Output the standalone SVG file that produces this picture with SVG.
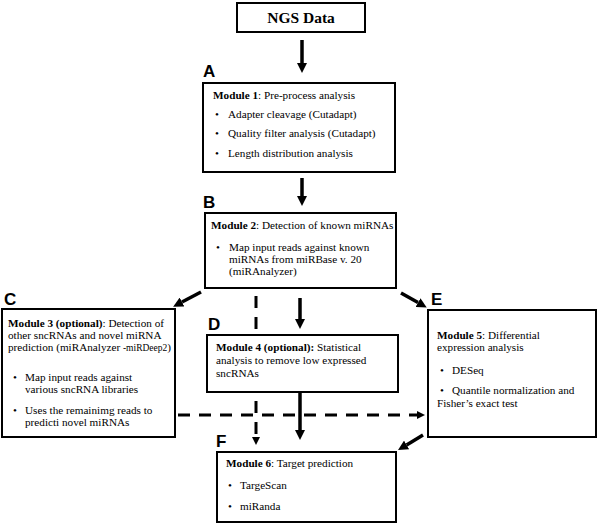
<svg xmlns="http://www.w3.org/2000/svg" width="600" height="524" viewBox="0 0 600 524">
<defs>
<style>
.box{fill:#fff;stroke:#000;stroke-width:2}
.t{font-family:"Liberation Serif","Times New Roman",serif;font-size:11.2px;fill:#000}
.b{font-weight:bold}
.lab{font-family:"Liberation Sans",Arial,sans-serif;font-size:17px;font-weight:bold;fill:#000}
.arr{stroke:#000;stroke-width:3.5;fill:none}
.dash{stroke:#000;stroke-width:3;fill:none;stroke-dasharray:12 9}
</style>
<marker id="ah" viewBox="0 0 10 10" refX="0" refY="5" markerWidth="10" markerHeight="10" markerUnits="userSpaceOnUse" orient="auto"><path d="M0,0 L10,5 L0,10 z" fill="#000"/></marker>
<marker id="ahs" viewBox="0 0 10 10" refX="0" refY="5" markerWidth="8" markerHeight="8" markerUnits="userSpaceOnUse" orient="auto"><path d="M0,0 L10,5 L0,10 z" fill="#000"/></marker>
</defs>
<g id="connectors">
<line class="arr" x1="302" y1="40" x2="302" y2="63" marker-end="url(#ah)"/>
<line class="arr" x1="302" y1="178" x2="302" y2="196" marker-end="url(#ah)"/>
<line class="arr" x1="201" y1="292" x2="182" y2="302" marker-end="url(#ah)"/>
<line class="arr" x1="401" y1="293" x2="418" y2="302.6" marker-end="url(#ah)"/>
<line class="arr" x1="300" y1="298" x2="300" y2="319" marker-end="url(#ah)"/>
<line class="arr" x1="300" y1="393" x2="300" y2="430" marker-end="url(#ah)"/>
<line class="dash" x1="256" y1="296" x2="256" y2="437" marker-end="url(#ahs)"/>
<line class="dash" x1="178" y1="415" x2="417" y2="415" marker-end="url(#ahs)"/>
<line class="arr" x1="423" y1="435" x2="406.6" y2="444.9" marker-end="url(#ah)"/>
</g>
<g id="ngs">
<rect class="box" x="237" y="3" width="128" height="29"/>
<text class="t b" x="301" y="23" text-anchor="middle" style="font-size:15.5px">NGS Data</text>
</g>
<g id="module1">
<text class="lab" x="203" y="77">A</text>
<rect class="box" x="203" y="83" width="192" height="89"/>
<text class="t" x="213" y="99"><tspan class="b">Module 1</tspan>: Pre-process analysis</text>
<text class="t" x="215" y="118">•</text><text class="t" x="228" y="118">Adapter cleavage (Cutadapt)</text>
<text class="t" x="215" y="137">•</text><text class="t" x="228" y="137">Quality filter analysis (Cutadapt)</text>
<text class="t" x="215" y="157">•</text><text class="t" x="228" y="157">Length distribution analysis</text>
</g>
<g id="module2">
<text class="lab" x="203" y="208">B</text>
<rect class="box" x="205" y="213" width="191" height="75"/>
<text class="t" x="211" y="229"><tspan class="b">Module 2</tspan>: Detection of known miRNAs</text>
<text class="t" x="216" y="251">•</text>
<text class="t" x="229" y="251">Map input reads against known</text>
<text class="t" x="229" y="263">miRNAs from miRBase v. 20</text>
<text class="t" x="229" y="275">(miRAnalyzer)</text>
</g>
<g id="module3">
<text class="lab" x="4" y="305">C</text>
<rect class="box" x="2" y="309" width="173" height="128"/>
<text class="t" x="8" y="327"><tspan class="b">Module 3 (optional)</tspan>: Detection of</text>
<text class="t" x="8" y="339">other sncRNAs and novel miRNA</text>
<text class="t" x="8" y="351">prediction (miRAnalyzer <tspan style="font-size:9.5px">-miRDeep2</tspan>)</text>
<text class="t" x="13" y="381">•</text>
<text class="t" x="25" y="381">Map input reads against</text>
<text class="t" x="25" y="393">various sncRNA libraries</text>
<text class="t" x="13" y="414">•</text>
<text class="t" x="25" y="414">Uses the remainimg reads to</text>
<text class="t" x="25" y="426">predicti novel miRNAs</text>
</g>
<g id="module4">
<text class="lab" x="208" y="330">D</text>
<rect class="box" x="207" y="335" width="191" height="57"/>
<text class="t" x="216" y="351"><tspan class="b">Module 4 (optional):</tspan> Statistical</text>
<text class="t" x="216" y="364">analysis to remove low expressed</text>
<text class="t" x="216" y="377">sncRNAs</text>
</g>
<g id="module5">
<text class="lab" x="431" y="305">E</text>
<rect class="box" x="428" y="310" width="168" height="127"/>
<text class="t" x="437" y="339"><tspan class="b">Module 5</tspan>: Differential</text>
<text class="t" x="437" y="351">expression analysis</text>
<text class="t" x="440" y="374">•</text>
<text class="t" x="452" y="374">DESeq</text>
<text class="t" x="440" y="394">•</text>
<text class="t" x="452" y="394">Quantile normalization and</text>
<text class="t" x="437" y="407">Fisher’s exact test</text>
</g>
<g id="module6">
<text class="lab" x="216" y="447">F</text>
<rect class="box" x="217" y="452" width="179" height="70"/>
<text class="t" x="226" y="467"><tspan class="b">Module 6</tspan>: Target prediction</text>
<text class="t" x="228" y="489">•</text>
<text class="t" x="240" y="489">TargeScan</text>
<text class="t" x="228" y="510">•</text>
<text class="t" x="240" y="510">miRanda</text>
</g>
</svg>
